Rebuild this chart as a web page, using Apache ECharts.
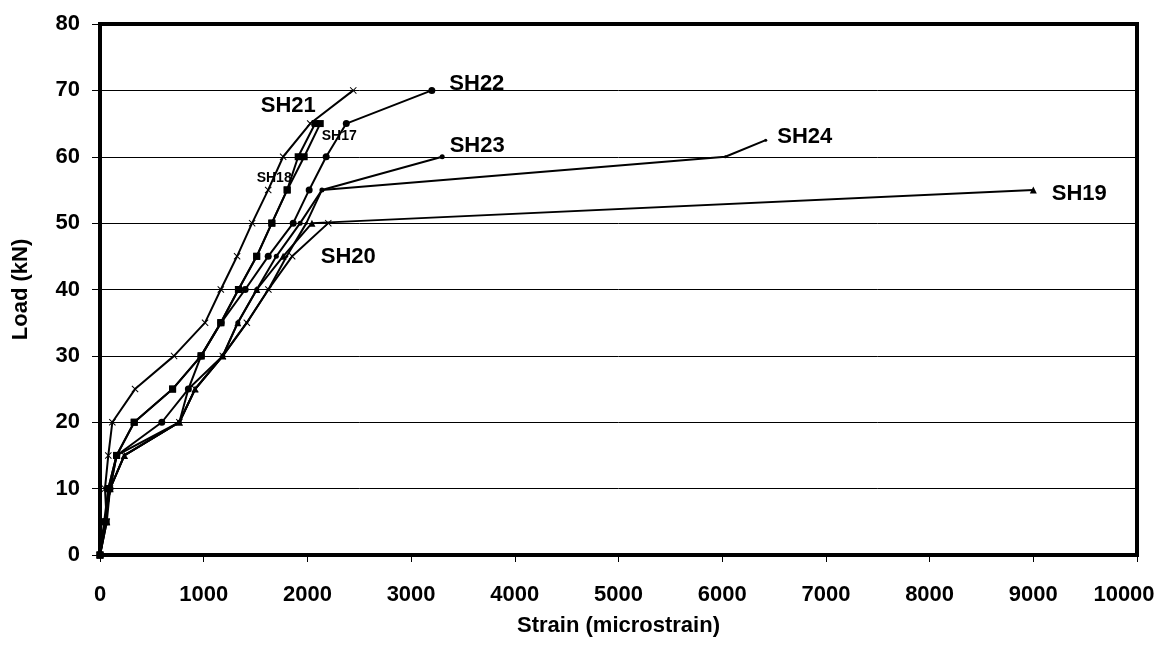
<!DOCTYPE html>
<html>
<head>
<meta charset="utf-8">
<script src="https://cdn.jsdelivr.net/npm/echarts@6/dist/echarts.min.js"></script>
<style>
html,body{margin:0;padding:0;background:#fff;}
#c{width:1157px;height:652px;}
</style>
</head>
<body>
<div id="c"></div>
<script>
// ---- data (strain in microstrain, load in kN) ----
const sh17X = [0, 60, 80, 160, 330, 700, 975, 1165, 1335, 1511, 1657, 1805, 1969, 2124];
const sh17Y = [0, 5, 10, 15, 20, 25, 30, 35, 40, 45, 50, 55, 60, 65];
const sh18X = [0, 40, 80, 160, 330, 700, 975, 1165, 1335, 1511, 1657, 1805, 1911, 2075];
const sh18Y = [0, 5, 10, 15, 20, 25, 30, 35, 40, 45, 50, 55, 60, 65];
const sh19X = [0, 65, 97, 235, 765, 917, 1184, 1329, 1512, 1766, 2044, 9000];
const sh19Y = [0, 5, 10, 15, 20, 25, 30, 35, 40, 45, 50, 55];
const sh20X = [0, 48, 97, 235, 765, 917, 1184, 1416, 1624, 1853, 2201];
const sh20Y = [0, 5, 10, 15, 20, 25, 30, 35, 40, 45, 50];
const sh21X = [0, 65, 48, 80, 119, 338, 714, 1013, 1165, 1322, 1467, 1622, 1766, 2027, 2442];
const sh21Y = [0, 5, 10, 15, 20, 25, 30, 35, 40, 45, 50, 55, 60, 65, 70];
const sh22X = [0, 48, 97, 160, 596, 852, 975, 1168, 1400, 1622, 1863, 2017, 2181, 2375, 3200];
const sh22Y = [0, 5, 10, 15, 20, 25, 30, 35, 40, 45, 50, 55, 60, 65, 70];
const sh23X = [0, 50, 97, 160, 765, 852, 1184, 1329, 1512, 1700, 1930, 2140, 3300];
const sh23Y = [0, 5, 10, 15, 20, 25, 30, 35, 40, 45, 50, 55, 60];
const sh24X = [0, 50, 97, 235, 765, 917, 1184, 1416, 1624, 1800, 1990, 2140, 6030, 6420];
const sh24Y = [0, 5, 10, 15, 20, 25, 30, 35, 40, 45, 50, 55, 60, 62.5];
const seriesNames = ['SH17', 'SH18', 'SH19', 'SH20', 'SH21', 'SH22', 'SH23', 'SH24'];
const xTicks = [0, 1000, 2000, 3000, 4000, 5000, 6000, 7000, 8000, 9000, 10000];
const yTicks = [0, 10, 20, 30, 40, 50, 60, 70, 80];

const XSYM = 'path://M0,1L1,0L5,4L9,0L10,1L6,5L10,9L9,10L5,6L1,10L0,9L4,5Z';
const FONT = '"Liberation Sans", Arial, sans-serif';

// label placement (style): index of the point it hangs on, pixel offset of the text centre, font size
const labelCfg = {
  SH17: {idx: 13, off: [19, 13], size: 14},
  SH18: {idx: 11, off: [-13, -12], size: 14},
  SH19: {idx: 11, off: [46, 4], size: 22},
  SH20: {idx: 10, off: [20, 34], size: 22},
  SH21: {idx: 14, off: [-65, 16], size: 22},
  SH22: {idx: 14, off: [45, -6], size: 22},
  SH23: {idx: 12, off: [35, -11], size: 22},
  SH24: {idx: 13, off: [39, -3], size: 22}
};
const symCfg = {
  SH17: ['rect', 7], SH18: ['rect', 7], SH19: ['triangle', 7], SH20: [XSYM, 7],
  SH21: [XSYM, 7], SH22: ['circle', 7], SH23: ['circle', 5], SH24: ['circle', 3]
};
const allX = [sh17X, sh18X, sh19X, sh20X, sh21X, sh22X, sh23X, sh24X];
const allY = [sh17Y, sh18Y, sh19Y, sh20Y, sh21Y, sh22Y, sh23Y, sh24Y];

const series = seriesNames.map((name, s) => {
  const lc = labelCfg[name];
  const data = allX[s].map((x, i) => {
    const v = [x, allY[s][i]];
    if (i === lc.idx) {
      return {value: v, label: {
        show: true, position: 'inside', offset: lc.off, formatter: name,
        color: '#000', fontFamily: FONT, fontWeight: 'bold', fontSize: lc.size,
        align: 'center', verticalAlign: 'middle'
      }};
    }
    return v;
  });
  return {
    name, type: 'line', data,
    symbol: symCfg[name][0], symbolSize: symCfg[name][1],
    showAllSymbol: true,
    lineStyle: {color: '#000', width: 2},
    itemStyle: {color: '#000'},
    label: {show: false},
    emphasis: {disabled: true},
    animation: false,
    z: 3
  };
});

const xMax = xTicks[xTicks.length - 1];
const chart = echarts.init(document.getElementById('c'), null, {renderer: 'canvas'});
chart.setOption({
  animation: false,
  backgroundColor: '#fff',
  grid: {left: 100, right: 20, top: 24, bottom: 97, containLabel: false, outerBoundsMode: 'none',
         show: true, borderColor: '#000', borderWidth: 4, backgroundColor: '#fff'},
  xAxis: {
    type: 'value', min: xTicks[0], max: xMax, interval: 1000,
    name: 'Strain (microstrain)', nameLocation: 'middle', nameGap: 60,
    nameTextStyle: {fontFamily: FONT, fontWeight: 'bold', fontSize: 22, color: '#000'},
    axisLine: {show: true, lineStyle: {color: '#000', width: 4}},
    axisTick: {show: true, length: 7, lineStyle: {color: '#000', width: 1}},
    axisLabel: {fontFamily: FONT, fontWeight: 'bold', fontSize: 22, color: '#000', margin: 29,
                formatter: (v) => v === xMax ? '{last|' + v + '}' : String(v),
                rich: {last: {fontFamily: FONT, fontWeight: 'bold', fontSize: 22, color: '#000',
                              padding: [0, 26, 0, 0]}}},
    splitLine: {show: false}
  },
  yAxis: {
    type: 'value', min: yTicks[0], max: yTicks[yTicks.length - 1], interval: 10,
    name: 'Load (kN)', nameLocation: 'middle', nameGap: 68,
    nameTextStyle: {fontFamily: FONT, fontWeight: 'bold', fontSize: 22, color: '#000'},
    axisLine: {show: true, lineStyle: {color: '#000', width: 4}},
    axisTick: {show: true, length: 8, lineStyle: {color: '#000', width: 1}},
    axisLabel: {fontFamily: FONT, fontWeight: 'bold', fontSize: 22, color: '#000', margin: 20,
                formatter: (v) => String(v)},
    splitLine: {show: true, lineStyle: {color: '#000', width: 1}}
  },
  series
});
</script>
</body>
</html>
